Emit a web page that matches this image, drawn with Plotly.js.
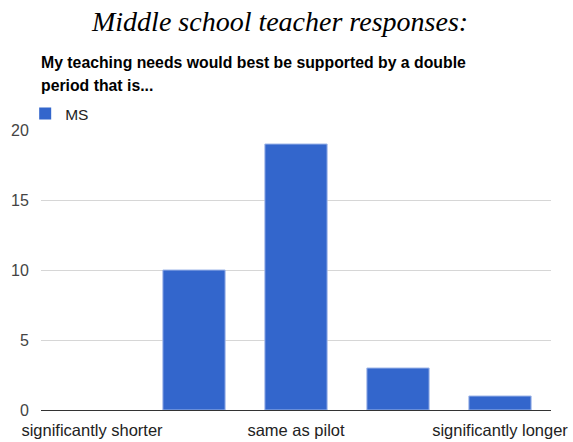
<!DOCTYPE html>
<html><head><meta charset="utf-8">
<script src="https://cdn.plot.ly/plotly-3.0.1.min.js"></script>
<style>html,body{margin:0;padding:0;background:#fff}#chart{width:573px;height:442px}</style>
</head><body><div id="chart"></div>
<script>
const categories = ["significantly shorter", "somewhat shorter", "same as pilot", "somewhat longer", "significantly longer"];
const msValues = [0, 10, 19, 3, 1];
const shownTicks = ["significantly shorter", "same as pilot", "significantly longer"];
const yTicks = [0, 5, 10, 15, 20];

const trace = {
  type: 'bar', name: 'MS', x: categories, y: msValues,
  marker: {color: '#3366cc', line: {color: '#9fb6e8', width: msValues.map(v => v > 0 ? 1 : 0)}},
  width: 0.61
};
const sans = 'Liberation Sans, Arial, sans-serif';
const layout = {
  width: 573, height: 442,
  margin: {l: 41, r: 22, t: 130, b: 32},
  paper_bgcolor: '#fff', plot_bgcolor: '#fff',
  showlegend: true,
  legend: {x: -0.031, y: 1.118, xanchor: 'left', yanchor: 'top', font: {family: sans, size: 15.5, color: '#222'}, itemwidth: 30, tracegroupgap: 0, bgcolor: 'rgba(0,0,0,0)'},
  xaxis: {type: 'category', tickvals: shownTicks, ticktext: shownTicks, showgrid: false, ticks: 'outside', ticklen: 5, tickcolor: 'rgba(0,0,0,0)', tickfont: {family: sans, size: 16.5, color: '#222'}, fixedrange: true, showline: false},
  yaxis: {range: [0, 20], tickvals: yTicks, showgrid: true, gridcolor: '#d6d6d6', gridwidth: 1, zeroline: true, zerolinecolor: '#333', zerolinewidth: 1, ticks: 'outside', ticklen: 8, tickcolor: 'rgba(0,0,0,0)', tickfont: {family: sans, size: 16, color: '#444'}},
  annotations: [
    {text: '<i>Middle school teacher responses:</i>', xref: 'paper', yref: 'paper', x: 0.467, y: 1, xanchor: 'center', yanchor: 'bottom', yshift: 91, showarrow: false, font: {family: 'Liberation Serif, serif', size: 28, color: '#000'}},
    {text: '<b>My teaching needs would best be supported by a double</b>', xref: 'paper', yref: 'paper', x: -0.003, y: 1, xanchor: 'left', yanchor: 'middle', yshift: 68, align: 'left', showarrow: false, font: {family: sans, size: 15.8, color: '#000'}},
    {text: '<b>period that is...</b>', xref: 'paper', yref: 'paper', x: -0.003, y: 1, xanchor: 'left', yanchor: 'middle', yshift: 45, align: 'left', showarrow: false, font: {family: sans, size: 15.8, color: '#000'}}
  ]
};
Plotly.newPlot('chart', [trace], layout, {displayModeBar: false, staticPlot: true});
</script></body></html>
